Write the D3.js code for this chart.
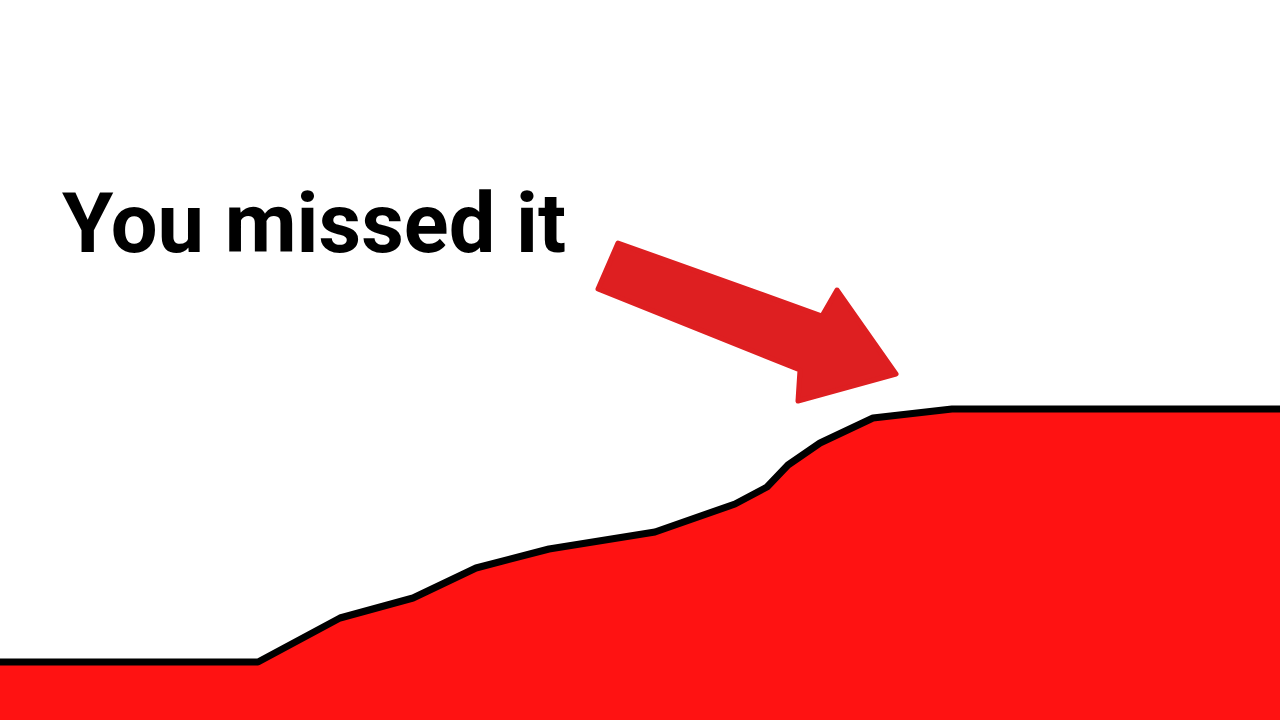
<!DOCTYPE html>
<html>
<head>
<meta charset="utf-8">
<script src="https://cdn.jsdelivr.net/npm/d3@7"></script>
<style>
  html, body { margin: 0; padding: 0; background: #fff; overflow: hidden; }
</style>
</head>
<body>
<script>
// curve (x in tenths of the width, y = level)
let xs     = [0, 25.8, 34, 41.3, 47.6, 54.9, 65.5, 73.5, 76.7, 78.8, 82, 87.3, 95.2, 128];
let levels = [5.8, 5.8, 10.2, 12.2, 15.2, 17.1, 18.8, 21.6, 23.3, 25.5, 27.7, 30.2, 31.1, 31.1];

// arrow outline, same units
let arrowX = [61.8, 82.2, 83.7, 89.6, 79.8, 80.0, 59.8];
let arrowY = [47.7, 40.4, 43.0, 34.6, 31.9, 35.0, 43.1];

let title = 'You missed it';

const W = 1280, H = 720;
const FILL = '#ff1212';
const ARROW = '#de1f21';

let svg = d3.select('body')
    .append('svg')
        .attr('width', W)
        .attr('height', H);

let x = d3.scaleLinear().domain([0, 128]).range([0, W]);
let y = d3.scaleLinear().domain([0, 72]).range([H, 0]);

let pts = xs.map((d, i) => [d, levels[i]]);

let area = d3.area()
    .x(d => x(d[0]))
    .y0(H + 10)
    .y1(d => y(d[1]));

let line = d3.line()
    .x(d => x(d[0]))
    .y(d => y(d[1]));

svg.append('path')
    .datum(pts)
    .attr('d', area)
    .attr('fill', FILL);

svg.append('path')
    .datum(pts)
    .attr('d', line)
    .attr('fill', 'none')
    .attr('stroke', '#000')
    .attr('stroke-width', 7)
    .attr('stroke-linejoin', 'round');

// arrow
let arrowPts = arrowX.map((d, i) => [d, arrowY[i]]);
svg.append('path')
    .datum(arrowPts)
    .attr('d', d => line(d) + 'Z')
    .attr('fill', ARROW)
    .attr('stroke', ARROW)
    .attr('stroke-width', 5)
    .attr('stroke-linejoin', 'round');

svg.append('text')
    .attr('x', 62)
    .attr('y', 252)
    .attr('font-family', 'Roboto, sans-serif')
    .attr('font-weight', 700)
    .attr('font-size', 83)
    .attr('fill', '#000')
    .text(title);
</script>
</body>
</html>
